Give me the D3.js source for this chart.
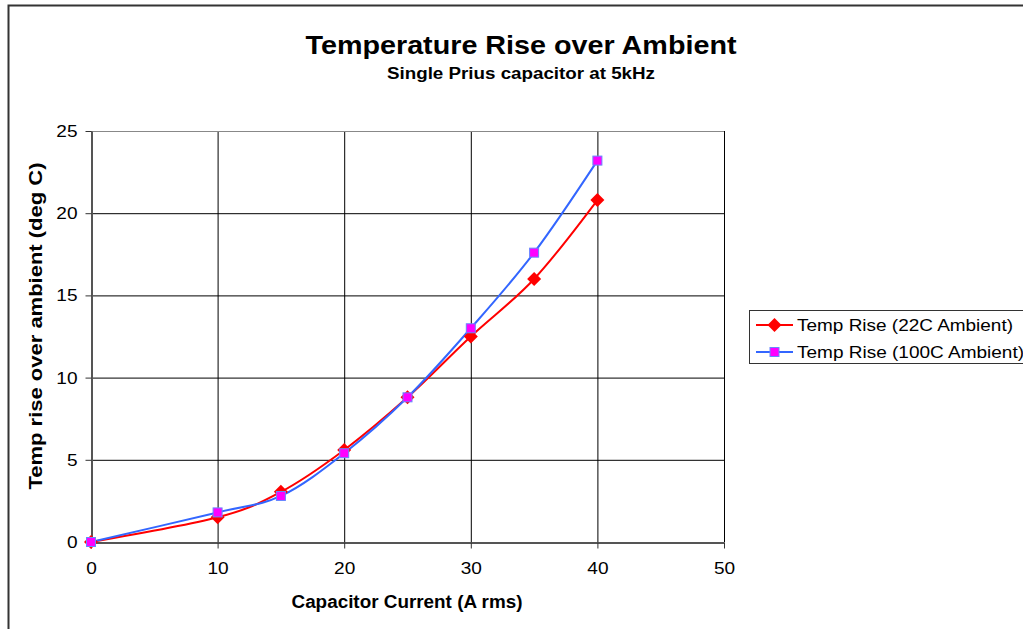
<!DOCTYPE html>
<html><head><meta charset="utf-8">
<script src="https://cdn.jsdelivr.net/npm/d3@7"></script>
<style>body{margin:0;background:#fff;}svg{display:block;font-family:Arial,"Liberation Sans",sans-serif;}</style>
</head><body>
<svg id="c" width="1023" height="629"></svg>
<script>
const xValues = [0, 10, 15, 20, 25, 30, 35, 40];
const temp22 = [0, 1.5, 3.05, 5.6, 8.8, 12.5, 16.0, 20.8];
const temp100 = [0, 1.8, 2.8, 5.4, 8.8, 13.0, 17.6, 23.2];
const xTicks = [0, 10, 20, 30, 40, 50];
const yTicks = [0, 5, 10, 15, 20, 25];
const seriesNames = ["Temp Rise (22C Ambient)", "Temp Rise (100C Ambient)"];

const svg = d3.select("#c");
const L = 91, R = 724, T = 131, B = 542;
const x = d3.scaleLinear().domain([0, 50]).range([L, R]);
const y = d3.scaleLinear().domain([0, 25]).range([B, T]);

function stretch(sel, f) {
  sel.each(function () {
    const w = this.getComputedTextLength();
    d3.select(this).attr("textLength", w * f).attr("lengthAdjust", "spacingAndGlyphs");
  });
}

// outer chart border
svg.append("rect").attr("x", 8.5).attr("y", 5.5).attr("width", 1030).attr("height", 640)
  .attr("fill", "none").attr("stroke", "#333").attr("stroke-width", 2);

// titles
svg.append("text").attr("x", 521).attr("y", 54).attr("text-anchor", "middle")
  .attr("font-size", 26).attr("font-weight", "bold")
  .attr("textLength", 431).attr("lengthAdjust", "spacingAndGlyphs")
  .text("Temperature Rise over Ambient");
svg.append("text").attr("x", 521).attr("y", 79).attr("text-anchor", "middle")
  .attr("font-size", 16).attr("font-weight", "bold")
  .attr("textLength", 268).attr("lengthAdjust", "spacingAndGlyphs")
  .text("Single Prius capacitor at 5kHz");

// gridlines
const g = svg.append("g");
g.selectAll(".hg").data(yTicks.filter(d => d > 0)).join("line")
  .attr("x1", L).attr("x2", R).attr("y1", d => y(d) + 0.5).attr("y2", d => y(d) + 0.5)
  .attr("stroke", "#000").attr("stroke-width", 1);
g.selectAll(".vg").data(xTicks.filter(d => d > 0)).join("line")
  .attr("y1", T).attr("y2", B).attr("x1", d => x(d) + 0.5).attr("x2", d => x(d) + 0.5)
  .attr("stroke", "#000").attr("stroke-width", 1);
g.append("line").attr("x1", L).attr("x2", R).attr("y1", T + 0.5).attr("y2", T + 0.5)
  .attr("stroke", "#888");

// axes
const xAxis = d3.axisBottom(x).tickValues(xTicks).tickSize(6).tickSizeOuter(0).tickPadding(13);
const yAxis = d3.axisLeft(y).tickValues(yTicks).tickSize(6).tickSizeOuter(0).tickPadding(8);
const xg = svg.append("g").attr("transform", `translate(0,${B + 0.5})`).call(xAxis);
const yg = svg.append("g").attr("transform", `translate(${L + 0.5},0)`).call(yAxis);
[xg, yg].forEach(a => {
  a.select(".domain").attr("stroke", "#555").attr("stroke-width", 2);
  a.selectAll(".tick line").attr("stroke", "#333");
  a.selectAll(".tick text").attr("font-size", 17).attr("fill", "#000")
    .attr("font-family", "Arial, 'Liberation Sans', sans-serif");
  stretch(a.selectAll(".tick text"), 1.12);
});

// axis titles
svg.append("text").attr("x", 407).attr("y", 608).attr("text-anchor", "middle")
  .attr("font-size", 18).attr("font-weight", "bold")
  .attr("textLength", 231).attr("lengthAdjust", "spacingAndGlyphs")
  .text("Capacitor Current (A rms)");
svg.append("text").attr("transform", "translate(42,326) rotate(-90)").attr("text-anchor", "middle")
  .attr("font-size", 18).attr("font-weight", "bold")
  .attr("textLength", 327).attr("lengthAdjust", "spacingAndGlyphs")
  .text("Temp rise over ambient (deg C)");

// lines
const line = d3.line().x(d => x(d[0])).y(d => y(d[1])).curve(d3.curveCardinal.tension(0));
const d22 = xValues.map((v, i) => [v, temp22[i]]);
const d100 = xValues.map((v, i) => [v, temp100[i]]);
svg.append("path").attr("d", line(d22)).attr("fill", "none").attr("stroke", "#ff0000").attr("stroke-width", 2);
svg.append("path").attr("d", line(d100)).attr("fill", "none").attr("stroke", "#3366ff").attr("stroke-width", 2);

function drawDiamond(sel, cx, cy) {
  sel.append("path").attr("d", "M0,-7L7,0L0,7L-7,0Z")
    .attr("transform", `translate(${cx},${cy})`).attr("fill", "#ff0000");
}
function drawSquare(sel, cx, cy) {
  sel.append("rect").attr("x", cx - 4.5).attr("y", cy - 4.5).attr("width", 9).attr("height", 9)
    .attr("fill", "#ff00ff").attr("stroke", "#6688ff").attr("stroke-width", 1);
}
d22.forEach(d => drawDiamond(svg, x(d[0]), y(d[1])));
d100.forEach(d => drawSquare(svg, x(d[0]), y(d[1])));

// legend
const lg = svg.append("g");
lg.append("rect").attr("x", 749.5).attr("y", 310.5).attr("width", 300).attr("height", 53)
  .attr("fill", "#fff").attr("stroke", "#333").attr("stroke-width", 1);
const rows = [325, 352];
const legendWidths = [216, 227];
lg.append("line").attr("x1", 756).attr("x2", 793).attr("y1", rows[0]).attr("y2", rows[0]).attr("stroke", "#ff0000").attr("stroke-width", 2);
drawDiamond(lg, 774.5, rows[0]);
lg.append("line").attr("x1", 756).attr("x2", 793).attr("y1", rows[1]).attr("y2", rows[1]).attr("stroke", "#3366ff").attr("stroke-width", 2);
drawSquare(lg, 774.5, rows[1]);
seriesNames.forEach((n, i) => {
  lg.append("text").attr("x", 797).attr("y", rows[i] + 6).attr("font-size", 17)
    .attr("textLength", legendWidths[i]).attr("lengthAdjust", "spacingAndGlyphs").text(n);
});
</script>
</body></html>
